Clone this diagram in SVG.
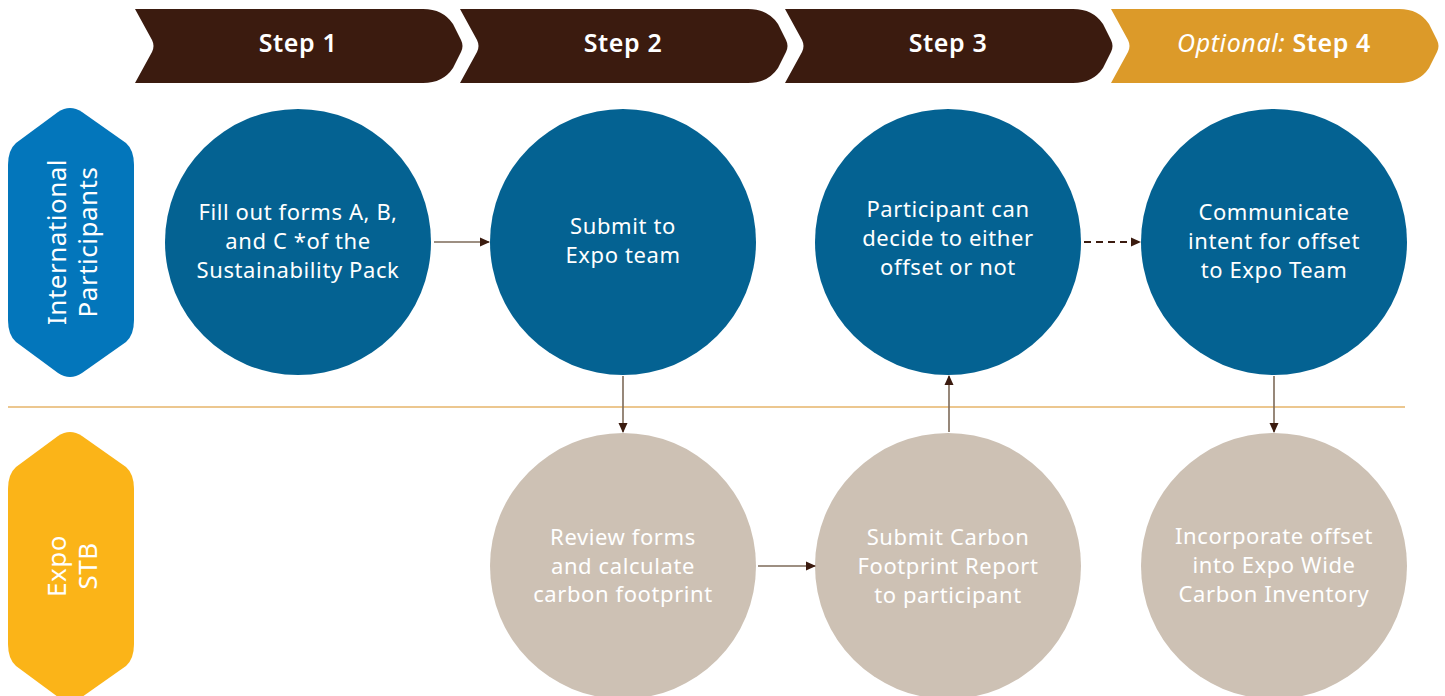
<svg xmlns="http://www.w3.org/2000/svg" width="1445" height="696" viewBox="0 0 1445 696">
<style>
.chev{fill:#3b1b0f}
.opt{fill:#dc9a29}
.st{font-family:"Noto Sans","Liberation Sans",sans-serif;font-size:25px;fill:#fff;text-anchor:middle;letter-spacing:0.6px}
.b{font-weight:600}
.lt{font-family:"Noto Sans","Liberation Sans",sans-serif;font-size:26px;fill:#fff;text-anchor:middle;letter-spacing:0.5px}
.ct{font-family:"Noto Sans","Liberation Sans",sans-serif;font-size:22px;fill:#fff;text-anchor:middle;letter-spacing:0.6px}
.blue{fill:#046292}
.beige{fill:#cdc1b4}
.conn{stroke:#7d6a58;stroke-width:1.6;fill:none}
.dash{stroke:#3b1b0f;stroke-width:2;stroke-dasharray:7 5;fill:none}
</style>
<defs>
<marker id="ah" markerWidth="10" markerHeight="10" refX="9" refY="5" orient="auto" markerUnits="userSpaceOnUse">
<path d="M0,0.5 L10,5 L0,9.5 Z" fill="#3b1b0f"/>
</marker>
<path id="chevshape" d="M0,0 L288,0 Q308,0 318,15 L326,31 Q329,37 326,43 L318,59 Q308,74 288,74 L0,74 L17,43 Q20,37 17,31 Z"/>
</defs>
<g id="header">
<g id="step1"><use href="#chevshape" x="135" y="9" class="chev"/><text class="st b" x="298" y="52">Step 1</text></g>
<g id="step2"><use href="#chevshape" x="460" y="9" class="chev"/><text class="st b" x="623" y="52">Step 2</text></g>
<g id="step3"><use href="#chevshape" x="785" y="9" class="chev"/><text class="st b" x="948" y="52">Step 3</text></g>
<g id="step4"><use href="#chevshape" x="1111" y="9" class="opt"/><text class="st" x="1274" y="52"><tspan font-style="italic">Optional:</tspan> <tspan font-weight="600">Step 4</tspan></text></g>
</g>
<line x1="8" y1="407" x2="1405" y2="407" stroke="#e6b56a" stroke-width="1.5"/>
<g id="lane-ip">
<path d="M58,112 Q70,104 82,112 L126,143 Q134,150 134,165 L134,320 Q134,335 126,342 L82,373 Q70,381 58,373 L16,342 Q8,335 8,320 L8,165 Q8,150 16,143 Z" fill="#0376bb"/>
<text class="lt" transform="translate(70,242) rotate(-90)"><tspan x="0" y="-4">International</tspan><tspan x="0" y="27">Participants</tspan></text>
</g>
<g id="lane-stb">
<path d="M58,436 Q70,428 82,436 L126,467 Q134,474 134,489 L134,644 Q134,659 126,666 L82,697 Q70,705 58,697 L16,666 Q8,659 8,644 L8,489 Q8,474 16,467 Z" fill="#fbb418"/>
<text class="lt" transform="translate(70,566) rotate(-90)"><tspan x="0" y="-4">Expo</tspan><tspan x="0" y="27">STB</tspan></text>
</g>
<g id="n1"><circle class="blue" cx="298" cy="242" r="133"/><text class="ct"><tspan x="298" y="220">Fill out forms A, B,</tspan><tspan x="298" y="249">and C *of the</tspan><tspan x="298" y="278">Sustainability Pack</tspan></text></g>
<g id="n2"><circle class="blue" cx="623" cy="242" r="133"/><text class="ct"><tspan x="623" y="234">Submit to</tspan><tspan x="623" y="263">Expo team</tspan></text></g>
<g id="n3"><circle class="blue" cx="948" cy="242" r="133"/><text class="ct"><tspan x="948" y="217">Participant can</tspan><tspan x="948" y="246">decide to either</tspan><tspan x="948" y="275">offset or not</tspan></text></g>
<g id="n4"><circle class="blue" cx="1274" cy="242" r="133"/><text class="ct"><tspan x="1274" y="220">Communicate</tspan><tspan x="1274" y="249">intent for offset</tspan><tspan x="1274" y="278">to Expo Team</tspan></text></g>
<g id="n5"><circle class="beige" cx="623" cy="566" r="133"/><text class="ct"><tspan x="623" y="545">Review forms</tspan><tspan x="623" y="574">and calculate</tspan><tspan x="623" y="602">carbon footprint</tspan></text></g>
<g id="n6"><circle class="beige" cx="948" cy="566" r="133"/><text class="ct"><tspan x="948" y="545">Submit Carbon</tspan><tspan x="948" y="574">Footprint Report</tspan><tspan x="948" y="603">to participant</tspan></text></g>
<g id="n7"><circle class="beige" cx="1274" cy="566" r="133"/><text class="ct"><tspan x="1274" y="544">Incorporate offset</tspan><tspan x="1274" y="573">into Expo Wide</tspan><tspan x="1274" y="602">Carbon Inventory</tspan></text></g>
<g id="connectors">
<line class="conn" x1="434" y1="242" x2="489" y2="242" marker-end="url(#ah)"/>
<line class="dash" x1="1084" y1="242" x2="1140" y2="242" marker-end="url(#ah)"/>
<line class="conn" x1="623" y1="376" x2="623" y2="432" marker-end="url(#ah)"/>
<line class="conn" x1="949" y1="432" x2="949" y2="376" marker-end="url(#ah)"/>
<line class="conn" x1="1274" y1="376" x2="1274" y2="432" marker-end="url(#ah)"/>
<line class="conn" x1="758" y1="566" x2="815" y2="566" marker-end="url(#ah)"/>
</g>
</svg>
